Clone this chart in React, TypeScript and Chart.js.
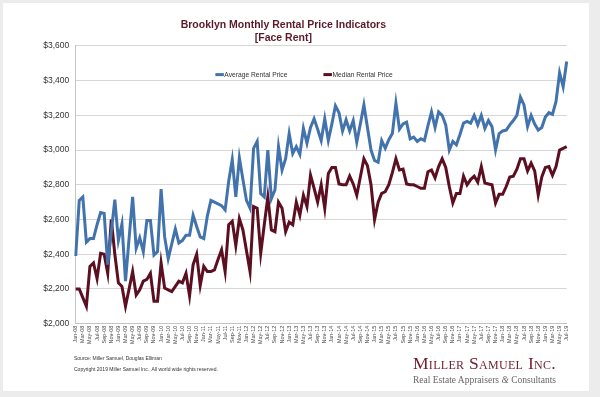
import React, { useEffect, useRef } from "react";
import { Chart, registerables } from "chart.js";

Chart.register(...registerables);

const titleLines = ["Brooklyn Monthly Rental Price Indicators", "[Face Rent]"];
const monthNames = ["Jan", "Feb", "Mar", "Apr", "May", "Jun", "Jul", "Aug", "Sep", "Oct", "Nov", "Dec"];
const yearSuffixes = ["08", "09", "10", "11", "12", "13", "14", "15", "16", "17", "18", "19"];
const lastMonthCount = 139; // Jan-08 .. Jul-19

const categories: string[] = [];
for (const y of yearSuffixes) for (const m of monthNames) categories.push(`${m}-${y}`);
categories.length = lastMonthCount;

const yTickValues = [2000, 2200, 2400, 2600, 2800, 3000, 3200, 3400, 3600];

const averageRent = [
  2390, 2710, 2730, 2470, 2490, 2490, 2570, 2640, 2635, 2340,
  2530, 2715, 2480, 2575, 2245, 2490, 2730, 2435, 2495, 2415,
  2595, 2595, 2395, 2415, 2775, 2500, 2375, 2460, 2545, 2465,
  2480, 2510, 2510, 2625, 2560, 2500, 2490, 2620, 2710, 2700,
  2690, 2680, 2655, 2820, 2945, 2730, 2955, 2830, 2710, 2665,
  3010, 3050, 2750, 2730, 3000, 2720, 2770, 3020, 2885, 2950,
  3095, 2980, 3020, 2975, 3125, 3040, 3130, 3180, 3120, 3055,
  3180, 3055, 3150, 3255, 3215, 3110, 3175, 3110, 3170, 3045,
  3150, 3260, 3130, 3000, 2940, 2930, 3055, 3010, 3060, 3095,
  3270, 3120, 3150, 3160, 3065, 3075, 3050, 3065, 3055, 3140,
  3220, 3130, 3220, 3200, 3145, 3000, 3050, 3030, 3090, 3155,
  3165, 3155, 3200, 3145, 3200, 3125, 3170, 3135, 3000, 3095,
  3110, 3115, 3145, 3170, 3200, 3305, 3260, 3135, 3200, 3150,
  3115, 3130, 3190, 3215, 3205, 3280, 3445, 3365, 3510,
];

const medianRent = [
  2200, 2200, 2150, 2100, 2330, 2350, 2260, 2405, 2400, 2290,
  2600, 2400, 2235, 2215, 2100, 2200, 2300, 2165, 2195, 2245,
  2255, 2290, 2130, 2130, 2350, 2205, 2195, 2185, 2215, 2245,
  2235, 2290, 2160, 2340, 2400, 2220, 2330, 2300, 2300, 2310,
  2370, 2425, 2300, 2570, 2590, 2450, 2605, 2540, 2420, 2300,
  2675, 2665, 2405, 2570, 2730, 2540, 2530, 2700, 2665, 2530,
  2585, 2570, 2700, 2625, 2740, 2675, 2855, 2780, 2700, 2800,
  2665, 2865, 2900, 2900, 2805, 2800, 2800, 2850, 2805, 2740,
  2845, 2950, 2910, 2800, 2600, 2700, 2750, 2760, 2800, 2870,
  2950, 2885, 2890, 2805, 2800, 2800, 2790, 2780, 2780, 2875,
  2885, 2840, 2905, 2950, 2900, 2790, 2695, 2750, 2750, 2850,
  2800, 2830, 2850, 2815, 2905, 2810, 2805, 2800, 2695, 2745,
  2745, 2790, 2845, 2850, 2890, 2950, 2950, 2880, 2925, 2880,
  2740, 2845, 2900, 2905, 2855, 2905, 3000, 3010, 3020,
];

const seriesNames = ["Average Rental Price", "Median Rental Price"];
const seriesColors = ["#4273ad", "#5c0f20"];

const SANS = '"Liberation Sans", Arial, sans-serif';

const legendPlugin = {
  id: "insideLegend",
  afterDraw(chart: any) {
    const ctx = chart.ctx as CanvasRenderingContext2D;
    ctx.save();
    ctx.font = `6.7px ${SANS}`;
    ctx.textBaseline = "middle";
    ctx.textAlign = "left";
    const sw = 8.5;
    const gapText = 0.5;
    const gapItem = 36;
    const items = chart.data.datasets.map((d: any) => ({
      label: d.label as string,
      color: d.borderColor as string,
      w: sw + gapText + ctx.measureText(d.label).width,
    }));
    const total = items.reduce((a: number, b: any) => a + b.w, 0) + gapItem * (items.length - 1);
    let x = 304 - total / 2;
    const y = 74.6;
    for (const it of items) {
      ctx.strokeStyle = it.color;
      ctx.lineWidth = 3;
      ctx.beginPath();
      ctx.moveTo(x, y);
      ctx.lineTo(x + sw, y);
      ctx.stroke();
      ctx.fillStyle = "#333";
      ctx.fillText(it.label, x + sw + gapText, y + 0.3);
      x += it.w + gapItem;
    }
    ctx.restore();
  },
};

export default function App() {
  const ref = useRef<HTMLCanvasElement | null>(null);

  useEffect(() => {
    if (!ref.current) return;
    const chart = new Chart(ref.current, {
      type: "line",
      data: {
        labels: categories,
        datasets: [
          {
            label: seriesNames[0],
            data: averageRent,
            borderColor: seriesColors[0],
            backgroundColor: seriesColors[0],
            borderWidth: 3,
            pointRadius: 0,
            tension: 0,
            fill: false,
          },
          {
            label: seriesNames[1],
            data: medianRent,
            borderColor: seriesColors[1],
            backgroundColor: seriesColors[1],
            borderWidth: 3,
            pointRadius: 0,
            tension: 0,
            fill: false,
          },
        ],
      },
      options: {
        animation: false,
        responsive: false,
        maintainAspectRatio: false,
        events: [],
        layout: { padding: { top: 18, right: 33.3, bottom: 0, left: 0 } },
        plugins: {
          legend: { display: false },
          tooltip: { enabled: false },
          title: {
            display: true,
            text: titleLines,
            color: "#5b1a2b",
            font: { family: SANS, size: 10.5, weight: "bold", lineHeight: 1.28 },
            padding: { top: 0, bottom: 1 },
          },
        },
        scales: {
          x: {
            type: "category",
            offset: false,
            grid: { display: false, drawTicks: false },
            border: { display: true, color: "#c4c4c4" },
            ticks: {
              autoSkip: false,
              minRotation: 90,
              maxRotation: 90,
              padding: 2,
              color: "#444",
              font: { family: SANS, size: 5.5 },
              callback: (_v: any, i: number) => (i % 2 === 0 ? categories[i] : ""),
            },
            afterFit: (s: any) => {
              s.height = 73.3;
            },
          },
          y: {
            min: yTickValues[0],
            max: yTickValues[yTickValues.length - 1],
            afterBuildTicks: (s: any) => {
              s.ticks = yTickValues.map((v) => ({ value: v }));
            },
            grid: { color: "#d6d6d6", drawTicks: false, lineWidth: 1 },
            border: { display: true, color: "#c4c4c4" },
            ticks: {
              padding: 6.5,
              color: "#333",
              font: { family: SANS, size: 8.5 },
              callback: (v: any) => "$" + Number(v).toLocaleString("en-US"),
            },
            afterFit: (s: any) => {
              s.width = 75.7;
            },
          },
        },
      },
      plugins: [legendPlugin],
    });
    return () => chart.destroy();
  }, []);

  return (
    <div style={{ position: "fixed", left: 0, top: 0, width: 600, height: 397, background: "#ececec", overflow: "hidden" }}>
      <div style={{ position: "absolute", left: 3, top: 3, width: 586, height: 388, background: "#ffffff" }} />
      <canvas ref={ref} width={600} height={397} style={{ position: "absolute", left: 0, top: 0, width: 600, height: 397 }} />
      <div style={{ position: "absolute", left: 74, top: 355, font: `5px ${SANS}`, color: "#333", whiteSpace: "nowrap" }}>
        Source: Miller Samuel, Douglas Elliman
      </div>
      <div style={{ position: "absolute", left: 74, top: 366, font: `5px ${SANS}`, color: "#333", whiteSpace: "pre" }}>
        {"Copyright 2019 Miller Samuel Inc.  All world wide rights reserved."}
      </div>
      <div
        style={{
          position: "absolute",
          left: 413,
          top: 354,
          fontFamily: '"Liberation Serif", "Times New Roman", serif',
          fontSize: 17.5,
          fontVariant: "small-caps",
          color: "#6e1f2e",
          whiteSpace: "nowrap",
          lineHeight: "18px",
          letterSpacing: 0.3,
        }}
      >
        Miller Samuel Inc.
      </div>
      <div
        style={{
          position: "absolute",
          left: 413,
          top: 375,
          fontFamily: '"Liberation Serif", "Times New Roman", serif',
          fontSize: 9.5,
          color: "#666",
          whiteSpace: "nowrap",
          lineHeight: "11px",
        }}
      >
        Real Estate Appraisers <i>&amp;</i> Consultants
      </div>
    </div>
  );
}
